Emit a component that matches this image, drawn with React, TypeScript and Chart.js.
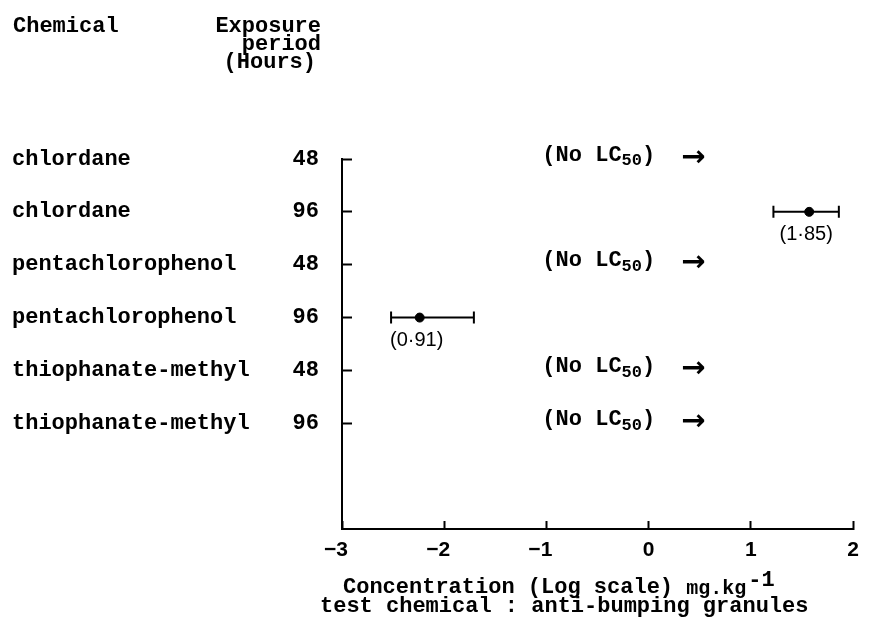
import React, { useEffect, useRef } from "react";
import { Chart, registerables } from "chart.js";

Chart.register(...registerables);

// ---- data ----
const chemicals = [
  "chlordane",
  "chlordane",
  "pentachlorophenol",
  "pentachlorophenol",
  "thiophanate-methyl",
  "thiophanate-methyl",
];
const exposureHours = ["48", "96", "48", "96", "48", "96"];

// rows (index into chemicals) that have an LC50 estimate
const lc50Rows = [1, 3];
const lc50Log = [1.57, -2.24];
const ciLow = [1.22, -2.52];
const ciHigh = [1.86, -1.71];
const lc50Labels = ["(1·85)", "(0·91)"];

// rows with no LC50, and the log value where the note starts
const noLc50Rows = [0, 2, 4, 5];
const noLc50Start = -1.04;

const xTicks = [-3, -2, -1, 0, 1, 2];
const xMin = -3;
const xMax = 2;
const rowSpan = 7;

const MONO = '"Liberation Mono", "Courier New", monospace';
const SANS = '"Liberation Sans", Arial, sans-serif';
const FS = 22;

const notesPlugin = {
  id: "notes",
  afterDraw(chart: any) {
    const { ctx, scales, chartArea } = chart;
    const x = scales.x;
    const y = scales.y;
    const yNames = scales.yNames;
    ctx.save();
    ctx.fillStyle = "#000";
    ctx.textBaseline = "middle";

    // column headers
    ctx.font = `bold ${FS}px ${MONO}`;
    ctx.textAlign = "left";
    ctx.fillText("Chemical", yNames.left + 1, 26);
    ctx.textAlign = "right";
    const hx = y.right - 21;
    ctx.fillText("Exposure", hx, 26);
    ctx.fillText("period", hx, 44);
    ctx.fillText("(Hours)", hx - 5, 62);

    // "(No LC50) ->" notes
    noLc50Rows.forEach((row) => {
      const px = x.getPixelForValue(noLc50Start);
      const py = y.getPixelForValue(row);
      ctx.textAlign = "left";
      ctx.font = `bold ${FS}px ${MONO}`;
      ctx.fillText("(No LC", px, py - 4);
      let cx = px + ctx.measureText("(No LC").width;
      ctx.font = `bold 17px ${MONO}`;
      ctx.fillText("50", cx, py + 2);
      cx += ctx.measureText("50").width;
      ctx.font = `bold ${FS}px ${MONO}`;
      ctx.fillText(")", cx, py - 4);
      ctx.font = `bold 29px "DejaVu Sans", sans-serif`;
      ctx.fillText("→", px + 139, py - 1);
    });

    // LC50 value labels
    ctx.textAlign = "center";
    ctx.font = `20px ${SANS}`;
    lc50Rows.forEach((row, i) => {
      const px = x.getPixelForValue(lc50Log[i]);
      const py = y.getPixelForValue(row);
      ctx.fillText(lc50Labels[i], px - 3, py + 23);
    });

    // x-axis title
    const l1y = chartArea.bottom + 58;
    const l2y = chartArea.bottom + 77;
    let tx = chartArea.left + 1;
    ctx.textAlign = "left";
    ctx.font = `bold ${FS}px ${MONO}`;
    const t1 = "Concentration (Log scale) ";
    ctx.fillText(t1, tx, l1y);
    tx += ctx.measureText(t1).width;
    ctx.font = `bold 20px ${MONO}`;
    ctx.fillText("mg.kg", tx, l1y + 2);
    tx += ctx.measureText("mg.kg").width + 2;
    ctx.font = `bold ${FS}px ${MONO}`;
    ctx.fillText("-1", tx, l1y - 7);
    ctx.fillText("test chemical : anti-bumping granules", chartArea.left - 22, l2y);
    ctx.restore();
  },
};

export default function App() {
  const ref = useRef<HTMLCanvasElement | null>(null);

  useEffect(() => {
    document.body.style.margin = "0";
    const canvas = ref.current;
    if (!canvas) return;

    const rowTicks = (scale: any) => {
      scale.ticks = chemicals.map((_, i) => ({ value: i }));
    };

    const errorSets = lc50Rows.map((row, i) => ({
      type: "scatter" as const,
      data: [
        { x: ciLow[i], y: row },
        { x: ciHigh[i], y: row },
      ],
      showLine: true,
      borderColor: "#000",
      borderWidth: 2,
      pointStyle: "line" as const,
      rotation: 90,
      pointRadius: 6,
      pointBorderWidth: 2,
      pointBorderColor: "#000",
      yAxisID: "y",
    }));

    const chart = new Chart(canvas, {
      type: "scatter",
      data: {
        datasets: [
          ...errorSets,
          {
            type: "scatter",
            data: lc50Rows.map((row, i) => ({ x: lc50Log[i], y: row })),
            pointStyle: "circle",
            pointRadius: 4.5,
            backgroundColor: "#000",
            borderColor: "#000",
            yAxisID: "y",
          },
        ],
      } as any,
      options: {
        animation: false,
        responsive: false,
        layout: { padding: { left: 12, top: 159, right: 8, bottom: 50 } },
        plugins: {
          legend: { display: false },
          tooltip: { enabled: false },
        },
        scales: {
          x: {
            type: "linear",
            min: xMin,
            max: xMax,
            afterBuildTicks: (scale: any) => {
              scale.ticks = xTicks.map((v) => ({ value: v }));
            },
            afterFit: (scale: any) => {
              scale.height = 40;
            },
            grid: {
              display: true,
              drawOnChartArea: false,
              drawTicks: true,
              tickLength: -8,
              tickWidth: 2,
              tickColor: "#000",
            },
            border: { display: true, color: "#000", width: 2 },
            ticks: {
              color: "#000",
              padding: 17,
              font: { family: SANS, size: 21, weight: "bold" },
              // minus sign hangs to the left; the digit sits centred on the tick
              callback: (v: any) =>
                Number(v) < 0 ? "−" + Math.abs(Number(v)) + "\u2002\u200A" : String(v),
            },
          },
          y: {
            type: "linear",
            position: "left",
            weight: 0,
            min: 0,
            max: rowSpan,
            reverse: true,
            afterBuildTicks: rowTicks,
            afterFit: (scale: any) => {
              scale.width = 62;
            },
            grid: {
              display: true,
              drawOnChartArea: false,
              drawTicks: true,
              tickLength: -10,
              tickWidth: 2,
              tickColor: "#000",
            },
            border: { display: true, color: "#000", width: 2 },
            ticks: {
              color: "#000",
              padding: 33,
              font: { family: MONO, size: FS, weight: "bold" },
              callback: (v: any) => exposureHours[Number(v)] ?? "",
            },
          },
          yNames: {
            type: "linear",
            position: "left",
            weight: 1,
            min: 0,
            max: rowSpan,
            reverse: true,
            afterBuildTicks: rowTicks,
            afterFit: (scale: any) => {
              scale.width = 268;
            },
            grid: { display: false, drawTicks: false },
            border: { display: false },
            ticks: {
              color: "#000",
              padding: 0,
              crossAlign: "far",
              font: { family: MONO, size: FS, weight: "bold" },
              callback: (v: any) => chemicals[Number(v)] ?? "",
            },
          },
        },
      } as any,
      plugins: [notesPlugin],
    });

    return () => chart.destroy();
  }, []);

  return (
    <div style={{ width: 876, height: 619, background: "#fff" }}>
      <canvas ref={ref} width={876} height={619} />
    </div>
  );
}
